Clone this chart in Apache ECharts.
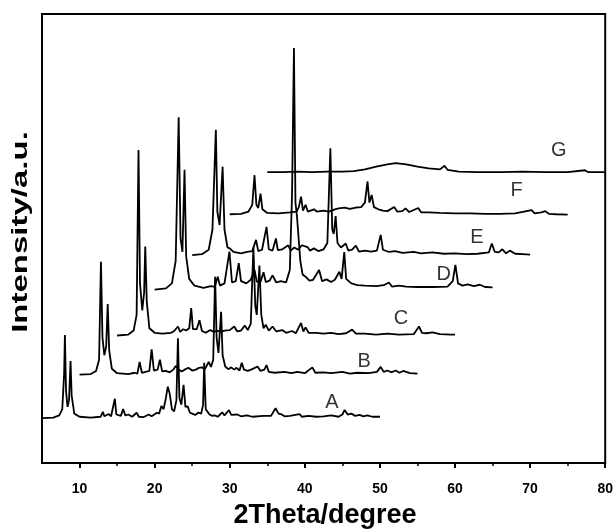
<!DOCTYPE html>
<html>
<head>
<meta charset="utf-8">
<script src="https://cdn.jsdelivr.net/npm/echarts@6/dist/echarts.min.js"></script>
<style>
  html, body { margin: 0; padding: 0; background: #fff; }
  #chart { width: 616px; height: 529px; }
</style>
</head>
<body>
<div id="chart"></div>
<script>
// Stacked XRD patterns, each sample drawn shifted by 5 degrees and raised.
const sampleNames = ['A', 'B', 'C', 'D', 'E', 'F', 'G'];

const patternA = [
  [5.0,10.0],[6.5,10.1],[7.3,10.6],[7.7,12.0],[7.95,20],[8.05,28.5],[8.2,16],[8.4,12.5],[8.6,14],[8.8,22.7],[8.95,15],[9.3,11],
  [10,10.3],[11.5,10.1],[12.8,10.3],[13.1,11.4],[13.3,10.4],[13.9,10.9],[14.2,10.4],[14.7,14.3],[14.9,10.8],[15.5,10.5],[15.8,12.0],
  [16.1,10.6],[16.5,10.8],[17.0,10.3],[17.6,11.2],[17.9,10.3],[18.5,10.2],[19.2,10.8],[19.6,10.4],[20.3,11.2],[20.6,11.0],[20.9,12.7],
  [21.2,12.0],[21.5,14.5],[21.75,17.0],[22.0,15.5],[22.3,12.0],[22.6,11.5],[22.9,14],[23.1,27.8],[23.3,14.5],[23.55,13],[23.85,17.4],
  [24.1,12.5],[24.4,12.6],[24.7,11.2],[25.0,11.0],[25.4,10.7],[25.8,11.2],[26.2,11.0],[26.45,13],[26.6,22.3],[26.8,12],[27.3,10.8],
  [27.7,10.5],[28.0,10.6],[28.4,10.3],[29.0,11.3],[29.3,10.6],[29.9,11.8],[30.2,10.7],[31.0,10.8],[31.5,10.4],[32.3,10.6],[33.0,10.3],
  [34.5,10.5],[35.5,10.5],[36.1,12.2],[36.5,11.0],[36.8,10.9],[37.3,10.4],[38.0,10.5],[39.3,10.9],[39.6,10.3],[40.5,10.5],[41.5,10.3],
  [42.5,10.4],[43.5,10.6],[44.5,10.3],[45.0,10.8],[45.3,11.8],[45.7,10.8],[46.2,11.0],[46.7,10.5],[47.3,10.7],[47.8,10.4],[48.3,10.6],
  [49.0,10.3],[50.0,10.3]
];

const patternB = [
  [10,19.7],[11.5,19.8],[12.2,20.5],[12.6,23],[12.85,44.8],[13.05,28],[13.3,24],[13.55,26],[13.75,35.4],[13.95,25],[14.3,21],[15,20],
  [16.5,19.8],[17.3,20.1],[17.7,19.9],[18.0,22.5],[18.3,20.1],[18.8,20.3],[19.3,20.5],[19.6,25.3],[19.9,20.6],[20.4,20.8],[20.7,23.0],
  [21.0,20.4],[21.5,20.5],[22.0,20.2],[22.5,20.8],[22.8,21.6],[23.2,20.8],[23.6,20.4],[24.0,20.8],[24.5,21.2],[25.0,20.6],[25.5,20.8],
  [25.9,21.2],[26.3,21.3],[26.7,20.9],[27.2,22.5],[27.5,21.4],[27.8,23],[28.05,41.5],[28.25,28],[28.5,24.5],[28.85,33.7],[29.05,24],
  [29.4,21.5],[29.8,20.9],[30.2,21.3],[30.6,20.8],[30.9,21.2],[31.3,20.6],[31.6,22.3],[31.9,20.8],[32.4,20.5],[33.0,20.9],[33.7,21.5],
  [34.1,20.5],[34.6,20.8],[34.9,21.8],[35.2,20.3],[36,20.1],[37.3,20.3],[38.2,20.0],[39.0,20.3],[40.0,20.0],[41.0,21.3],[41.4,20.1],
  [42.5,20.2],[43.5,20.0],[45.0,20.3],[46,19.9],[47.0,20.1],[48.5,20.0],[49.6,20.3],[50.1,21.4],[50.5,20.3],[51.0,20.6],[51.5,20.2],
  [52.1,20.6],[52.6,20.1],[53.1,20.5],[54,20.0],[55,19.9]
];

const patternC = [
  [15,28.4],[16.5,28.6],[17.2,29.5],[17.6,33],[17.85,69.7],[18.05,40],[18.35,34],[18.6,38],[18.75,48.2],[18.95,36],[19.3,30],[20,29],
  [21,28.8],[22.2,29],[22.6,29.4],[23.1,30.4],[23.4,29.2],[23.8,29.8],[24.2,29.5],[24.6,30],[24.87,34.5],[25.1,29.8],[25.6,29.8],
  [25.97,31.8],[26.3,29.4],[26.8,29.0],[27.4,29.6],[27.9,29.2],[28.3,29.5],[28.8,29.2],[29.3,29.5],[30.0,29.6],[30.6,30.4],[31.0,29.3],
  [31.5,29.5],[32.0,30.6],[32.4,29.6],[32.8,31],[33.15,48],[33.4,35],[33.6,33],[33.95,44],[34.2,33],[34.5,30],[34.8,30.8],[35.2,29.5],
  [35.7,30.4],[36.2,29.3],[37.0,29.6],[37.5,29.0],[38.3,29.4],[38.8,28.9],[39.5,31.2],[39.8,29.3],[40.1,30.2],[40.5,29.0],[41.5,29.0],
  [42.5,28.8],[43.5,29.0],[44.5,28.7],[45.5,28.9],[46.3,29.7],[46.8,28.8],[48,28.8],[49.5,28.6],[51,28.8],[52.5,28.6],[54.5,28.7],
  [55.2,30.4],[55.6,29],[56.2,28.9],[57.0,29.1],[58,28.7],[59.5,28.6],[60,28.6]
];

const patternD = [
  [20,38.6],[21.5,38.9],[22.3,40],[22.8,45],[23.2,77],[23.45,50],[23.7,47],[23.98,65.3],[24.2,46],[24.6,41],[25.3,39.5],[26.5,39],
  [27.5,39.4],[28.0,39.2],[28.4,41.5],[28.7,39.5],[29.3,40],[29.96,47.1],[30.3,40.2],[30.8,40.5],[31.2,44.5],[31.5,40.5],[32.2,40],
  [32.8,40.8],[33.3,43],[33.6,40.4],[34.1,40.3],[34.5,42.5],[34.8,40.3],[35.3,40.6],[35.7,41.8],[36.2,40.2],[36.8,40.5],[37.5,40.2],
  [38.0,43],[38.3,60],[38.55,92.4],[38.75,58],[38.95,55],[39.15,54.9],[39.4,45],[39.7,42],[40.1,41.5],[40.6,40.6],[41.1,40.8],
  [41.9,43],[42.3,40.5],[42.9,40.9],[43.5,40.3],[44.0,40.8],[44.6,42.6],[44.9,41],[45.25,47],[45.5,41],[46.2,40.0],[47.0,39.6],
  [48,39.5],[49.5,39.4],[50.5,39.6],[51.2,40.2],[51.6,39.3],[52.5,39.5],[53.5,39.3],[55,39.2],[57,39.2],[59,39.3],[59.7,40.5],
  [60.05,44.1],[60.4,40],[61,39.5],[61.7,39.8],[62.5,39.4],[63.3,39.7],[64,39.2],[65,39.1]
];

const patternE = [
  [25,46.3],[26.3,46.5],[27.2,47.5],[27.7,52],[28.15,74.2],[28.35,56],[28.65,53],[29.05,66],[29.3,52],[29.7,48],[30.0,47.8],[30.5,47],
  [31.5,46.7],[32.3,47],[33.0,47.2],[33.5,49.7],[33.8,47.2],[34.3,47.5],[34.9,52.6],[35.2,47.6],[35.7,47.3],[36.15,50],[36.4,47.4],
  [37.0,47.6],[37.8,48.5],[38.1,47.3],[38.6,48],[39.1,47.5],[39.6,48.5],[40.35,48.1],[40.7,47.3],[41.2,47.8],[41.8,47.2],[42.5,47.6],
  [43.0,49],[43.4,70.1],[43.65,52],[43.85,51],[44.1,55],[44.35,49],[44.8,48],[45.45,48.9],[45.8,47.3],[46.3,47.5],[46.8,48.4],
  [47.2,47.1],[48.0,47.3],[48.8,47.1],[49.6,47.3],[50.1,50.8],[50.4,47.5],[51.2,47.0],[52.0,47.2],[53,46.8],[54.5,47.0],[55.5,46.7],
  [57,46.9],[58.5,46.6],[60,46.7],[61.5,46.5],[63,46.6],[64.5,46.9],[64.9,48.9],[65.3,47],[65.8,46.9],[66.3,47.6],[66.8,46.7],
  [67.3,47.3],[68,46.6],[69,46.5],[70,46.4]
];

const patternF = [
  [30,55.4],[31.5,55.5],[32.5,56],[33.0,57.5],[33.3,64.1],[33.55,57.5],[33.8,56.8],[34.1,60],[34.35,56.5],[35,55.7],[36.5,55.6],
  [38.0,55.8],[38.9,56],[39.2,57],[39.5,59.3],[39.75,56.2],[40.1,57.5],[40.4,56],[41.2,56.5],[41.6,56],[42.5,56.2],[43.2,56],
  [44.0,56.5],[44.5,56.7],[45.3,56.9],[46.0,56.6],[46.8,56.9],[47.5,57.0],[48.0,58],[48.35,62.7],[48.6,58],[48.9,59.7],[49.2,57],
  [49.8,56.5],[50.4,56.2],[51.0,56.1],[51.9,57],[52.3,56],[53.0,56.1],[53.4,56.7],[53.9,55.9],[55.1,56.8],[55.5,55.8],[56.5,55.8],
  [58,55.7],[60,55.6],[62,55.6],[64,55.5],[66,55.5],[68,55.6],[70.2,56.3],[70.6,55.6],[71.5,55.8],[72,56.1],[72.5,55.5],[73.5,55.4],
  [75,55.3]
];

const patternG = [
  [35,64.8],[37,64.8],[39,64.9],[41,64.8],[43,64.9],[45,64.9],[46.5,65.0],[48,65.4],[49.5,66.0],[51,66.5],[52.1,66.8],[53.5,66.5],
  [55,66.0],[56.5,65.6],[58.0,65.4],[58.6,66.2],[59.0,65.3],[60.5,64.9],[63,64.8],[66,64.8],[69,64.9],[72,64.8],[75,64.8],
  [77.3,65.2],[77.7,64.8],[80,64.8]
];

const patterns = [patternA, patternB, patternC, patternD, patternE, patternF, patternG];

// Where each sample's letter sits (degrees, intensity units)
const nameAnchors = [[43.6,13.4],[47.9,22.7],[52.8,32.1],[58.5,41.9],[62.9,50.3],[68.2,60.6],[73.8,69.7]];

const majorTicks = [10, 20, 30, 40, 50, 60, 70, 80];
const minorTicks = [15, 25, 35, 45, 55, 65, 75];

const FONT = '"Liberation Sans", Arial, sans-serif';

const chart = echarts.init(document.getElementById('chart'), null, { renderer: 'canvas' });

const lineSeries = patterns.map((p, i) => ({
  name: sampleNames[i],
  type: 'line',
  data: p,
  xAxisIndex: 0,
  yAxisIndex: 0,
  symbol: 'none',
  smooth: false,
  animation: false,
  lineStyle: { color: '#000', width: 1.8 },
  z: 3
}));

const letterSeries = {
  type: 'scatter',
  xAxisIndex: 0,
  yAxisIndex: 0,
  symbolSize: 0,
  animation: false,
  silent: true,
  data: nameAnchors.map((a, i) => ({ value: a, name: sampleNames[i] })),
  label: {
    show: true,
    position: 'inside',
    formatter: p => p.name,
    color: '#000',
    fontFamily: FONT,
    fontSize: 20
  },
  z: 5
};

chart.setOption({
  backgroundColor: '#fff',
  animation: false,
  grid: {
    left: 42, right: 9, top: 14, bottom: 66,
    show: true, borderColor: '#000', borderWidth: 2, backgroundColor: 'transparent'
  },
  // Axis titles: the vertical one is drawn elongated along its reading direction
  graphic: [
    {
      type: 'text', x: 325, y: 516, silent: true,
      style: { text: '2Theta/degree', font: 'bold 27px "Liberation Sans", Arial, sans-serif', fill: '#000', align: 'center', verticalAlign: 'middle' }
    },
    {
      type: 'text', x: 21, y: 232, rotation: Math.PI / 2, scaleX: 1.5, silent: true,
      style: { text: 'Intensity/a.u.', font: 'bold 22px "Liberation Sans", Arial, sans-serif', fill: '#000', align: 'center', verticalAlign: 'middle' }
    }
  ],
  xAxis: [
    {
      type: 'value', min: 5, max: 80, interval: 5,
      axisLine: { show: true, onZero: false, lineStyle: { color: '#000', width: 2 } },
      axisTick: { show: true, customValues: majorTicks, length: 5, inside: false, lineStyle: { color: '#000', width: 2 } },
      axisLabel: { show: true, customValues: majorTicks, margin: 19, fontFamily: FONT, fontWeight: 'bold', fontSize: 14, color: '#000' },
      splitLine: { show: false }
    },
    {
      type: 'value', min: 5, max: 80, interval: 5, position: 'bottom',
      axisLine: { show: false },
      axisTick: { show: true, customValues: minorTicks, length: 3, inside: false, lineStyle: { color: '#000', width: 1.5 } },
      axisLabel: { show: false },
      splitLine: { show: false }
    }
  ],
  yAxis: {
    type: 'value', min: 0, max: 100,
    axisLine: { show: true, lineStyle: { color: '#000', width: 2 } },
    axisTick: { show: false },
    axisLabel: { show: false },
    splitLine: { show: false }
  },
  series: [...lineSeries, letterSeries]
});
</script>
</body>
</html>
